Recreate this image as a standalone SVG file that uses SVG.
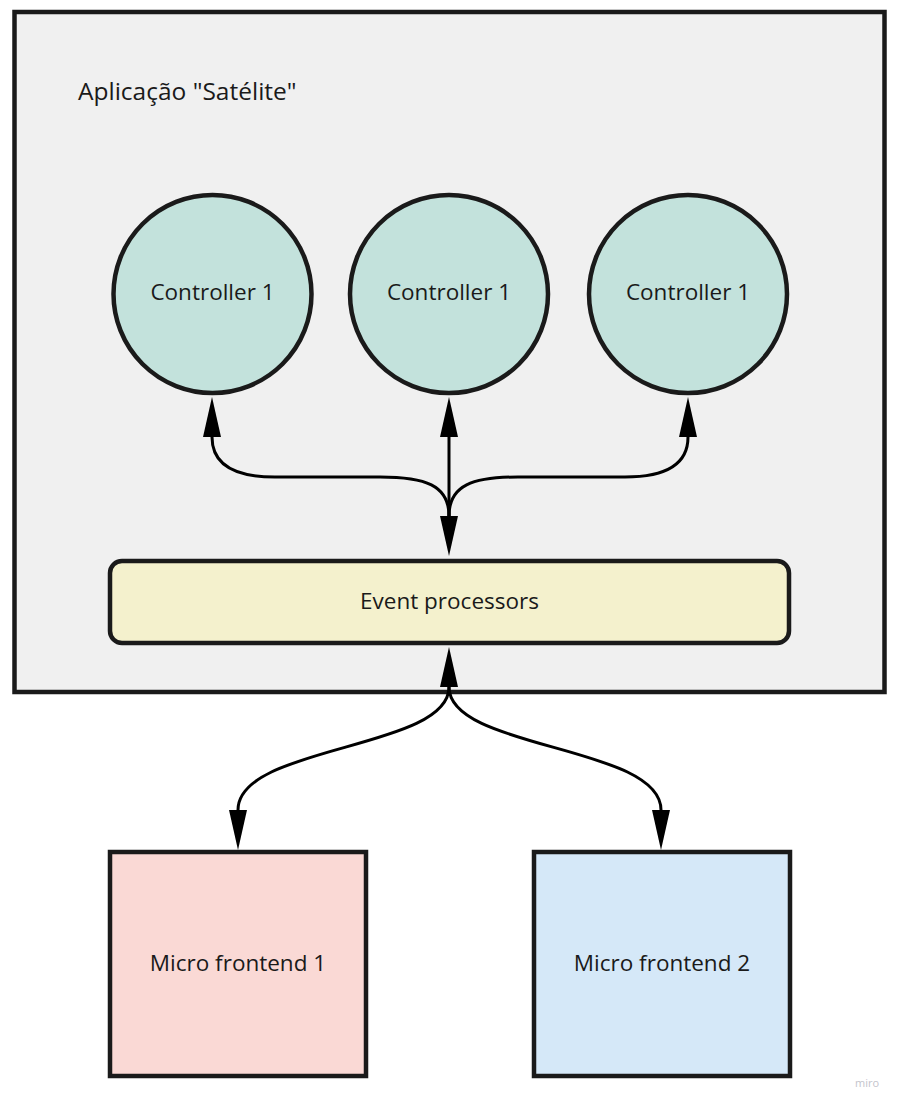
<svg xmlns="http://www.w3.org/2000/svg" width="901" height="1108" viewBox="0 0 901 1108">
<style>
.shape{stroke:#1a1a1a;stroke-width:4.5}
.lbl{font-family:"Open Sans","Noto Sans","Liberation Sans",sans-serif;font-size:22.5px;fill:#1a1a1a;text-anchor:middle}
.conn{fill:none;stroke:#000;stroke-width:3}
</style>
<defs>
<marker id="arr" viewBox="0 0 40 18" refX="0" refY="9" markerWidth="40" markerHeight="18" markerUnits="userSpaceOnUse" orient="auto-start-reverse">
<path d="M0,0 L40,9 L0,18 Z" fill="#000"/>
</marker>
</defs>
<rect x="0" y="0" width="901" height="1108" fill="#ffffff"/>
<g id="app">
<rect class="shape" x="14.5" y="12" width="870" height="680" fill="#f0f0f0"/>
<text x="78" y="100" style="font-family:'Open Sans','Noto Sans','Liberation Sans',sans-serif;font-size:24.5px;fill:#1a1a1a">Aplicação "Satélite"</text>
</g>
<g id="controller1">
<circle class="shape" cx="212.5" cy="294" r="99" fill="#c3e2dc"/>
<text class="lbl" x="212.5" y="300">Controller 1</text>
</g>
<g id="controller2">
<circle class="shape" cx="449" cy="294" r="99" fill="#c3e2dc"/>
<text class="lbl" x="449" y="300">Controller 1</text>
</g>
<g id="controller3">
<circle class="shape" cx="688" cy="294" r="99" fill="#c3e2dc"/>
<text class="lbl" x="688" y="300">Controller 1</text>
</g>
<g id="event-processors">
<rect class="shape" x="110" y="561" width="679" height="82" rx="12" fill="#f4f1cd"/>
<text class="lbl" x="449.5" y="609">Event processors</text>
</g>
<g id="mf1">
<rect class="shape" x="110" y="852" width="256" height="224" fill="#fad9d5"/>
<text class="lbl" x="238" y="971">Micro frontend 1</text>
</g>
<g id="mf2">
<rect class="shape" x="534" y="852" width="256" height="224" fill="#d5e8f8"/>
<text class="lbl" x="662" y="971">Micro frontend 2</text>
</g>
<g id="connectors">
<path class="conn" d="M449,437 L449,516" marker-start="url(#arr)" marker-end="url(#arr)"/>
<path class="conn" d="M449,516 C449,485 425,477 380,477 L275,477 C235,477 212,465 212,437" marker-end="url(#arr)"/>
<path class="conn" d="M449,516 C449,485 473,477 518,477 L625,477 C665,477 688,465 688,437" marker-end="url(#arr)"/>
<path class="conn" d="M449,687 C449,750 238,745 238,810" marker-start="url(#arr)" marker-end="url(#arr)"/>
<path class="conn" d="M449,687 C449,750 661,745 661,810" marker-end="url(#arr)"/>
</g>
<text x="867" y="1087" style="font-family:'Open Sans','Liberation Sans',sans-serif;font-size:11px;fill:#c4c4cc;text-anchor:middle">miro</text>
</svg>
